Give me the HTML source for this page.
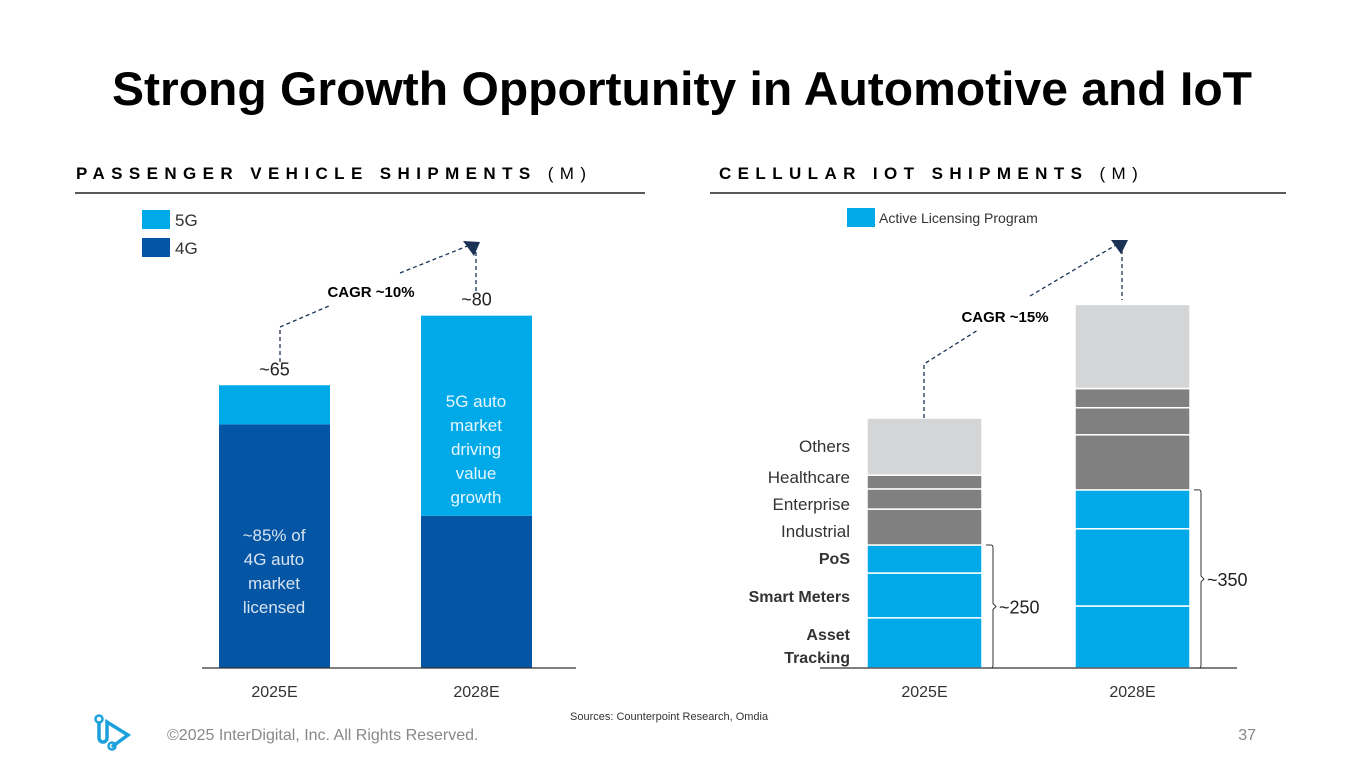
<!DOCTYPE html>
<html><head><meta charset="utf-8">
<style>
body{margin:0;width:1365px;height:768px;background:#fff;overflow:hidden;font-family:"Liberation Sans",sans-serif;}
svg{position:absolute;left:0;top:0}
</style></head>
<body>
<svg width="1365" height="768" viewBox="0 0 1365 768" id="chart">
<text x="682" y="105" text-anchor="middle" font-size="47" font-weight="bold" fill="#000" textLength="1140" lengthAdjust="spacingAndGlyphs">Strong Growth Opportunity in Automotive and IoT</text>
<text x="76" y="179" font-size="17" font-weight="bold" letter-spacing="6.4" fill="#000">PASSENGER VEHICLE SHIPMENTS <tspan font-weight="normal">(M)</tspan></text>
<line x1="75" y1="193" x2="645" y2="193" stroke="#222" stroke-width="1.5"/>
<text x="719" y="179" font-size="17" font-weight="bold" letter-spacing="6.4" fill="#000">CELLULAR IOT SHIPMENTS <tspan font-weight="normal">(M)</tspan></text>
<line x1="710" y1="193" x2="1286" y2="193" stroke="#222" stroke-width="1.5"/>

<rect x="142" y="210" width="28" height="19" fill="#00A9E8"/>
<text x="175" y="226" font-size="17" fill="#333">5G</text>
<rect x="142" y="238" width="28" height="19" fill="#0455A4"/>
<text x="175" y="254" font-size="17" fill="#333">4G</text>
<rect x="847" y="208" width="28" height="19" fill="#00A9E8"/>
<text x="879" y="223" font-size="14" fill="#333">Active Licensing Program</text>

<g id="left"></g>
<g id="right"></g>

<g fill="none" stroke="#1a3355" stroke-width="1.3" stroke-dasharray="4,3">
<polyline points="280,362 280,327 329,306"/>
<polyline points="400,273 470,245"/>
<line x1="476" y1="252" x2="476" y2="292"/>
<polyline points="924,418 924,364 978,330"/>
<polyline points="1030,296 1116,245"/>
<line x1="1122" y1="250" x2="1122" y2="300"/>
</g>
<polygon points="463,241 480,242 474,256" fill="#1a3355"/>
<polygon points="1111,240 1128,240 1121,254" fill="#1a3355"/>
<text x="371" y="297" text-anchor="middle" font-size="15" font-weight="bold" fill="#000">CAGR ~10%</text>
<text x="1005" y="322" text-anchor="middle" font-size="15" font-weight="bold" fill="#000">CAGR ~15%</text>

<text x="167" y="740" font-size="16" fill="#888">©2025 InterDigital, Inc. All Rights Reserved.</text>
<text x="570" y="720" font-size="11" fill="#333">Sources: Counterpoint Research, Omdia</text>
<text x="1256" y="740" text-anchor="end" font-size="16" fill="#888">37</text>
<g fill="none" stroke="#1BA1DC" stroke-width="3.5" stroke-linecap="round">
<circle cx="99" cy="719" r="3.5" stroke-width="2.5"/>
<path d="M99 723 V738 a4 4 0 0 0 8 0 V722 L128 735 L113 746"/>
<circle cx="112" cy="746" r="3.5" stroke-width="2.5"/>
</g>
</svg>
<script>
const leftCats=["2025E","2028E"];
const left4G=[56,35];
const left5G=[9,46];
const leftTotals=["~65","~80"];
const rightCats=["2025E","2028E"];
const rightSegments=["Asset Tracking","Smart Meters","PoS","Industrial","Enterprise","Healthcare","Others"];
const right2025=[102,91,57,73,41,28,116];
const right2028=[126,157,79,112,55,39,171];
const rightBlueTotals=["~250","~350"];

const NS="http://www.w3.org/2000/svg";
function mk(tag,attrs,parent,txt){const e=document.createElementNS(NS,tag);for(const k in attrs)e.setAttribute(k,attrs[k]);if(txt!==undefined)e.textContent=txt;parent.appendChild(e);return e;}
const base=668;
const L=document.getElementById('left');
const lScale=v=>v*4.35;
const lX=i=>219+i*202, lW=111;
leftCats.forEach((c,i)=>{
  const h4=lScale(left4G[i]), h5=lScale(left5G[i]);
  const r1=mk('rect',{x:lX(i),y:base-h4,width:lW,height:h4,fill:'#0455A4'},L);
  
  
  const r2=mk('rect',{x:lX(i),y:base-h4-h5,width:lW,height:h5,fill:'#00A9E8'},L);
  
  
  const t=mk('text',{x:lX(i)+lW/2,y:base-h4-h5-10,'text-anchor':'middle','font-size':18,fill:'#222'},L,leftTotals[i]);
  
  
  const xl=mk('text',{x:lX(i)+lW/2,y:697,'text-anchor':'middle','font-size':16,fill:'#333'},L,c);
  
  
});
const la=mk('line',{x1:202,y1:668,x2:576,y2:668,stroke:'#333','stroke-width':1.2},L);


[["~85% of",541],["4G auto",565],["market",589],["licensed",613]].forEach(([s,y])=>{const t=mk('text',{x:274,y:y,'text-anchor':'middle','font-size':17,fill:'#d8e4f2'},L,s);});
[["5G auto",407],["market",431],["driving",455],["value",479],["growth",503]].forEach(([s,y])=>{const t=mk('text',{x:476,y:y,'text-anchor':'middle','font-size':17,fill:'#e6f6fd'},L,s);});

const R=document.getElementById('right');
const rScale=v=>v*0.492;
const rX=i=>867+i*208, rW=115;
const colors=['#00A9E8','#00A9E8','#00A9E8','#808080','#808080','#808080','#D4D5D7'];
[right2025,right2028].forEach((vals,i)=>{
  let y=base;
  vals.forEach((v,j)=>{
    const h=rScale(v); y-=h;
    const r=mk('rect',{x:rX(i),y:y,width:rW,height:h,fill:colors[j],stroke:'#fff','stroke-width':1.5},R);
    
    
  });
  const blue=rScale(vals[0]+vals[1]+vals[2]);
  const bx=rX(i)+rW+4, top=base-blue, mid=base-blue/2;
  const b=mk('path',{d:`M${bx} ${top} h5 q2 0 2 3 V${mid-3} l3 3 l-3 3 V${base-3} q0 3 -2 3 h-5`,fill:'none',stroke:'#333','stroke-width':1},R);
  
  
  const t=mk('text',{x:bx+13,y:mid+7,'font-size':18,fill:'#222'},R,rightBlueTotals[i]);
  
  
  const xl=mk('text',{x:rX(i)+rW/2,y:697,'text-anchor':'middle','font-size':16,fill:'#333'},R,rightCats[i]);
  
  
});
const ra=mk('line',{x1:820,y1:668,x2:1237,y2:668,stroke:'#333','stroke-width':1.2},R);


[["Others",452,0],["Healthcare",483,0],["Enterprise",510,0],["Industrial",537,0],["PoS",564,1],["Smart Meters",602,1],["Asset",640,1],["Tracking",663,1]].forEach(([s,y,b])=>{
  const t=mk('text',{x:850,y:y,'text-anchor':'end','font-size':b?16:17,'font-weight':b?'bold':'normal',fill:'#333'},R,s);
  
  
});
</script>
</body></html>
